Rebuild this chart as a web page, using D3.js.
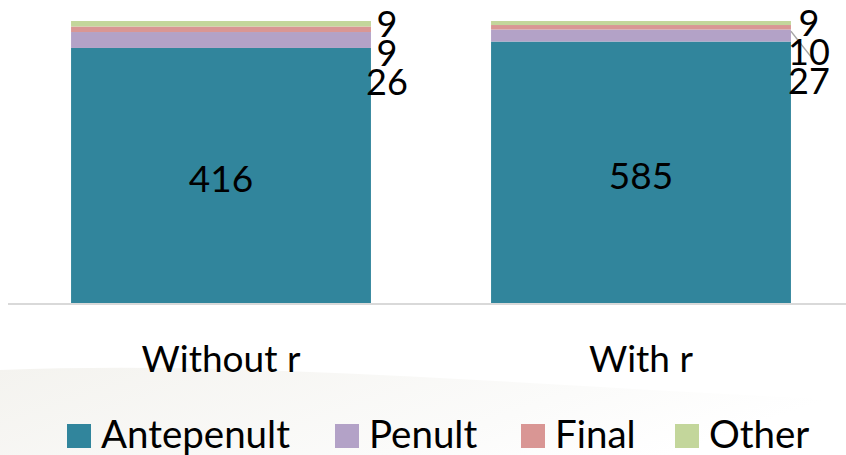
<!DOCTYPE html>
<html>
<head>
<meta charset="utf-8">
<script src="https://cdn.jsdelivr.net/npm/d3@7.9.0/dist/d3.min.js"></script>
<style>
  body { margin: 0; background: #fff; }
  svg { display: block; font-family: Lato, Carlito, "Open Sans", sans-serif; }
</style>
</head>
<body>
<svg id="chart" width="846" height="455"></svg>
<script>
// data
const categories = ['Without r', 'With r'];
const seriesNames = ['Antepenult', 'Penult', 'Final', 'Other'];
const antepenult = [416, 585];
const penult = [26, 27];
const finalStress = [9, 10];
const other = [9, 9];
const colors = ['#31859c', '#b3a2c7', '#d99694', '#c3d69b'];

const W = 846, H = 455;
const svg = d3.select('#chart');

// very faint background swoosh (slide backdrop)
const defs = svg.append('defs');
const grad = defs.append('linearGradient').attr('id', 'bg').attr('x1', 0).attr('y1', 0).attr('x2', 1).attr('y2', 0.3);
grad.append('stop').attr('offset', '0%').attr('stop-color', '#f4f3ef');
grad.append('stop').attr('offset', '70%').attr('stop-color', '#fbfbfa');
grad.append('stop').attr('offset', '100%').attr('stop-color', '#ffffff');
svg.append('path')
  .attr('d', `M0,370 C250,360 520,385 ${W},400 L${W},${H} L0,${H} Z`)
  .attr('fill', 'url(#bg)');

// rows for the stack
const rows = categories.map((c, i) => ({
  cat: c,
  Antepenult: antepenult[i],
  Penult: penult[i],
  Final: finalStress[i],
  Other: other[i]
}));

// 100% stacked
const stacked = d3.stack().keys(seriesNames).offset(d3.stackOffsetExpand)(rows);

const x = d3.scaleBand().domain(categories).range([11, 851]).paddingInner(0.286).paddingOuter(0.143);
const y = d3.scaleLinear().domain([0, 1]).range([303, 21]);

const layers = svg.append('g').selectAll('g').data(stacked).join('g')
  .attr('fill', (d, i) => colors[i]);

layers.selectAll('rect').data(d => d).join('rect')
  .attr('x', d => x(d.data.cat))
  .attr('y', d => y(d[1]))
  .attr('width', x.bandwidth())
  .attr('height', d => y(d[0]) - y(d[1]));

// axis line
svg.append('line')
  .attr('x1', 8).attr('x2', W)
  .attr('y1', y(0) + 1).attr('y2', y(0) + 1)
  .attr('stroke', '#d9d9d9').attr('stroke-width', 2);

const fs = 37;

// inside labels for antepenult
svg.append('g').selectAll('text').data(stacked[0]).join('text')
  .attr('x', d => x(d.data.cat) + x.bandwidth() / 2)
  .attr('y', d => (y(d[0]) + y(d[1])) / 2 + fs * 0.36 + 3)
  .attr('text-anchor', 'middle')
  .attr('font-size', fs)
  .attr('fill', '#000')
  .text(d => d.data.Antepenult);

// callout labels for the small segments, pushed down so they don't pile up
const gap = 29;
categories.forEach((c, ci) => {
  const xr = x(c) + x.bandwidth();
  // from top series downwards: Other, Final, Penult
  let prev = -Infinity;
  const items = [];
  for (let k = seriesNames.length - 1; k >= 1; k--) {
    const seg = stacked[k][ci];
    const target = (y(seg[0]) + y(seg[1])) / 2;
    const cy = Math.max(target, prev + gap);
    prev = cy;
    items.push({ v: rows[ci][seriesNames[k]], cy: cy, target: target });
  }
  const g = svg.append('g');
  items.forEach(it => {
    if (it.cy - it.target > 20 && ci === 1 && it.v === 10) {
      g.append('line')
        .attr('x1', xr).attr('y1', it.target + 4)
        .attr('x2', xr + 21).attr('y2', it.cy + 6)
        .attr('stroke', '#a6a6a6').attr('stroke-width', 1.3);
    }
    g.append('text')
      .attr('x', xr + 16 + ci * 2)
      .attr('y', it.cy + fs * 0.36)
      .attr('text-anchor', 'middle')
      .attr('font-size', fs - 1)
      .attr('fill', '#000')
      .text(it.v);
  });
});

// category labels
svg.append('g').selectAll('text').data(categories).join('text')
  .attr('x', d => x(d) + x.bandwidth() / 2)
  .attr('y', 372)
  .attr('text-anchor', 'middle')
  .attr('font-size', 37)
  .attr('fill', '#000')
  .text(d => d);

// legend
const legendX = [67, 335, 521, 675];
const legend = svg.append('g').selectAll('g').data(seriesNames).join('g')
  .attr('transform', (d, i) => `translate(${legendX[i]},424)`);
legend.append('rect').attr('width', 24).attr('height', 24).attr('fill', (d, i) => colors[i]);
legend.append('text')
  .attr('x', 34).attr('y', 24)
  .attr('font-size', 38.5)
  .attr('fill', '#000')
  .text(d => d);
</script>
</body>
</html>
